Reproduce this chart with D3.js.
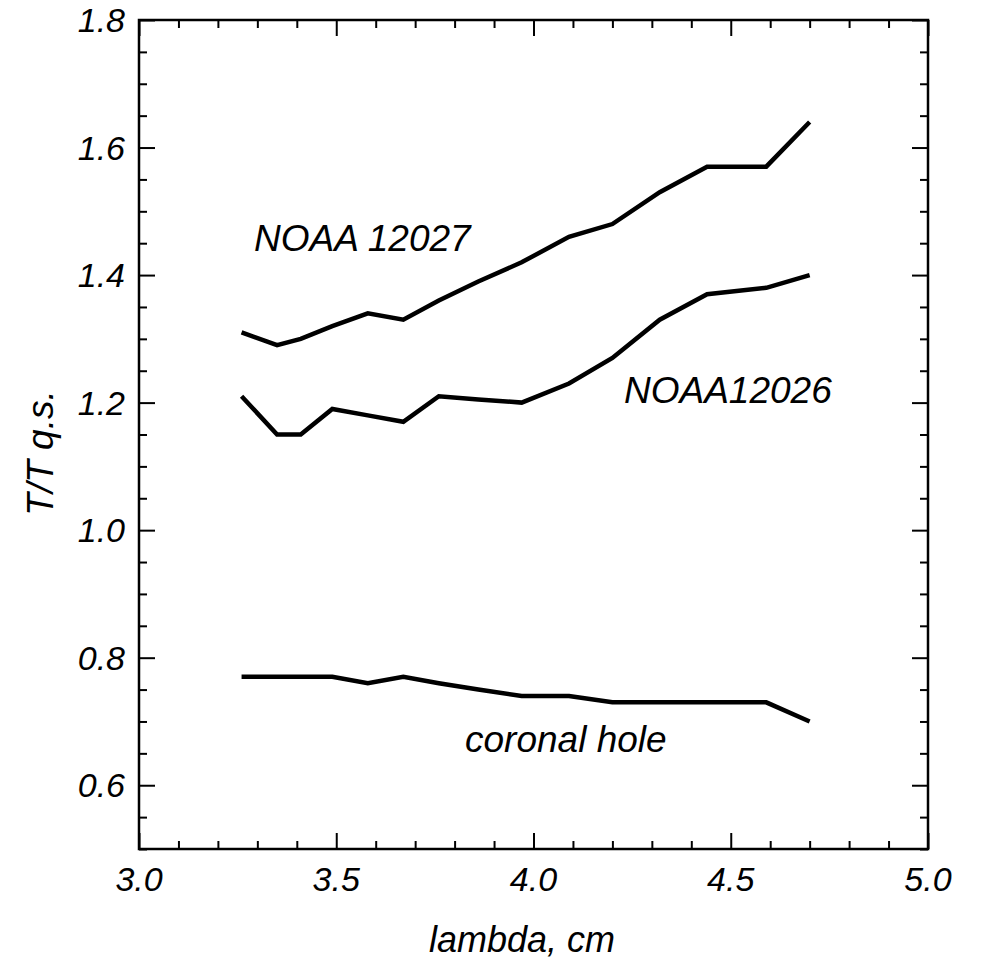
<!DOCTYPE html>
<html>
<head>
<meta charset="utf-8">
<script src="https://cdn.jsdelivr.net/npm/d3@7"></script>
<style>
  body { margin: 0; background: #fff; }
  text { font-family: "Liberation Sans", Arial, sans-serif; font-style: italic; fill: #000; }
</style>
</head>
<body>
<div id="chart"></div>
<script>
// wavelengths, cm
var lambda = [3.26, 3.35, 3.41, 3.49, 3.58, 3.67, 3.76, 3.86, 3.97, 4.09, 4.20, 4.32, 4.44, 4.59, 4.70]
// T / T q.s.
var noaa12027 = [1.31, 1.29, 1.30, 1.32, 1.34, 1.33, 1.36, 1.39, 1.42, 1.46, 1.48, 1.53, 1.57, 1.57, 1.64]
var noaa12026 = [1.21, 1.15, 1.15, 1.19, 1.18, 1.17, 1.21, 1.205, 1.20, 1.23, 1.27, 1.33, 1.37, 1.38, 1.40]
var coronalHole = [0.77, 0.77, 0.77, 0.77, 0.76, 0.77, 0.76, 0.75, 0.74, 0.74, 0.73, 0.73, 0.73, 0.73, 0.70]

var xMajor = [3.0, 3.5, 4.0, 4.5, 5.0]
var yMajor = [0.6, 0.8, 1.0, 1.2, 1.4, 1.6, 1.8]

var width = 981, height = 961
var margin = { top: 20, right: 53, bottom: 112, left: 139 }
var w = width - margin.left - margin.right
var h = height - margin.top - margin.bottom

var svg = d3.select('#chart').append('svg')
  .attr('width', width)
  .attr('height', height)

var g = svg.append('g')
  .attr('transform', 'translate(' + margin.left + ',' + margin.top + ')')

var x = d3.scaleLinear().domain([3.0, 5.0]).range([0, w])
var y = d3.scaleLinear().domain([0.5, 1.8]).range([h, 0])

// minor ticks: every 0.1 on x, every 0.05 on y
var xMinor = d3.range(30, 51).filter(d => d % 5 !== 0).map(d => d / 10)
var yMinor = d3.range(10, 37).filter(d => d % 4 !== 0).map(d => d / 20)

function styleAxis(sel) {
  sel.select('.domain').remove()
  sel.selectAll('.tick line').attr('stroke', '#000').attr('stroke-width', 2)
}

// ticks on all four sides, pointing in
g.append('g').attr('transform', 'translate(0,' + h + ')')
  .call(d3.axisBottom(x).tickValues(xMajor).tickSize(-16).tickFormat(''))
  .call(styleAxis)
g.append('g').attr('transform', 'translate(0,' + h + ')')
  .call(d3.axisBottom(x).tickValues(xMinor).tickSize(-8).tickFormat(''))
  .call(styleAxis)
g.append('g')
  .call(d3.axisTop(x).tickValues(xMajor).tickSize(-16).tickFormat(''))
  .call(styleAxis)
g.append('g')
  .call(d3.axisTop(x).tickValues(xMinor).tickSize(-8).tickFormat(''))
  .call(styleAxis)
g.append('g')
  .call(d3.axisLeft(y).tickValues(yMajor).tickSize(-16).tickFormat(''))
  .call(styleAxis)
g.append('g')
  .call(d3.axisLeft(y).tickValues(yMinor).tickSize(-8).tickFormat(''))
  .call(styleAxis)
g.append('g').attr('transform', 'translate(' + w + ',0)')
  .call(d3.axisRight(y).tickValues(yMajor).tickSize(-16).tickFormat(''))
  .call(styleAxis)
g.append('g').attr('transform', 'translate(' + w + ',0)')
  .call(d3.axisRight(y).tickValues(yMinor).tickSize(-8).tickFormat(''))
  .call(styleAxis)

g.append('rect')
  .attr('width', w)
  .attr('height', h)
  .attr('fill', 'none')
  .attr('stroke', '#000')
  .attr('stroke-width', 2.5)

// tick labels
g.selectAll('.xlab').data(xMajor).enter().append('text')
  .attr('class', 'xlab')
  .attr('x', d => x(d))
  .attr('y', h + 42)
  .attr('text-anchor', 'middle')
  .style('font-size', '34px')
  .text(d3.format('.1f'))

g.selectAll('.ylab').data(yMajor).enter().append('text')
  .attr('class', 'ylab')
  .attr('x', -14)
  .attr('y', d => y(d) + 12)
  .attr('text-anchor', 'end')
  .style('font-size', '34px')
  .text(d3.format('.1f'))

// axis titles
svg.append('text')
  .attr('x', 522)
  .attr('y', 952)
  .attr('text-anchor', 'middle')
  .style('font-size', '36px')
  .text('lambda, cm')

svg.append('text')
  .attr('transform', 'translate(53,453) rotate(-90)')
  .attr('text-anchor', 'middle')
  .style('font-size', '37px')
  .text('T/T q.s.')

// curves
var line = d3.line()
  .x((d, i) => x(lambda[i]))
  .y(d => y(d))

var series = [noaa12027, noaa12026, coronalHole]
g.selectAll('.curve').data(series).enter().append('path')
  .attr('class', 'curve')
  .attr('d', line)
  .attr('fill', 'none')
  .attr('stroke', '#000')
  .attr('stroke-width', 4.5)
  .attr('stroke-linejoin', 'miter')

// curve labels
var labels = [
  { text: 'NOAA 12027', x: 254, y: 251 },
  { text: 'NOAA12026', x: 624, y: 403 },
  { text: 'coronal hole', x: 465, y: 752 }
]
svg.selectAll('.clab').data(labels).enter().append('text')
  .attr('class', 'clab')
  .attr('x', d => d.x)
  .attr('y', d => d.y)
  .style('font-size', '37px')
  .text(d => d.text)
</script>
</body>
</html>
